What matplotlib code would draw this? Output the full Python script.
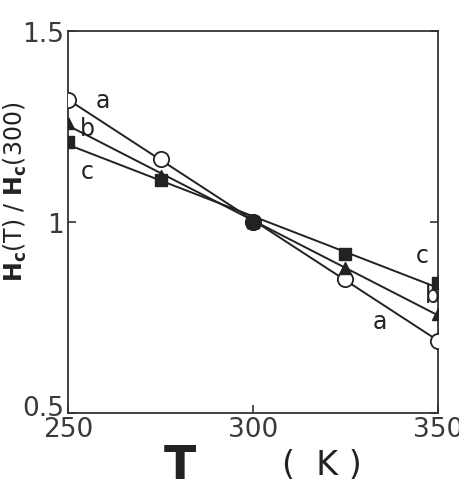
import numpy as np
import matplotlib
matplotlib.use("Agg")
import matplotlib.pyplot as plt
import matplotlib.transforms as mtransforms

T = [250, 275, 300, 325, 350]
a_vals = [1.32, 1.165, 1.0, 0.85, 0.69]
b_vals = [1.26, 1.12, 1.0, 0.88, 0.76]
c_vals = [1.21, 1.11, 1.0, 0.915, 0.84]

xticks = [250, 300, 350]
yticks = [0.5, 1, 1.5]
ytick_labels = ["0.5", "1", "1.5"]

fig = plt.figure(figsize=(4.6, 4.89), dpi=100)
ax = fig.add_axes([0.148, 0.153, 0.804, 0.782])
ax.set_xlim(250, 350)
ax.set_ylim(0.5, 1.5)

col = "#222222"
Tarr = np.array(T, dtype=float)
xx = np.array([250.0, 350.0])
for vals in (a_vals, b_vals, c_vals):
    p = np.polyfit(Tarr, np.array(vals), 1)
    ax.plot(xx, np.polyval(p, xx), color=col, lw=1.4, zorder=2)

ax.plot(T, a_vals, ls="none", marker="o", ms=11, mfc="white", mec=col, mew=1.3, zorder=3)
ax.plot(T, b_vals, ls="none", marker="^", ms=9, mfc=col, mec=col, zorder=4)
ax.plot(T, c_vals, ls="none", marker="s", ms=8, mfc=col, mec=col, zorder=5)
ax.plot([300], [1.0], ls="none", marker="o", ms=11, mfc=col, mec=col, zorder=6)

lab_kw = dict(fontsize=17, color=col, ha="center", va="center")
ax.text(259.5, 1.318, "a", **lab_kw)
ax.text(255.3, 1.245, "b", **lab_kw)
ax.text(255.3, 1.134, "c", **lab_kw)
ax.text(345.7, 0.913, "c", **lab_kw)
ax.text(348.4, 0.81, "b", **lab_kw)
ax.text(334.3, 0.74, "a", **lab_kw)

for s in ax.spines.values():
    s.set_color("#333333")
    s.set_linewidth(1.3)

ax.set_xticks(xticks)
ax.set_xticklabels([str(v) for v in xticks])
ax.set_yticks(yticks)
ax.set_yticklabels(ytick_labels)
ax.tick_params(direction="in", length=6, width=1.2, colors="#333333",
               labelsize=19, labelcolor="#3a3a3a", right=True)
ax.tick_params(axis="x", pad=2)
ax.tick_params(axis="y", pad=3)

# lift the 0.5 label slightly, as in the reference
lab0 = ax.get_yticklabels()[0]
lab0.set_transform(lab0.get_transform() + mtransforms.ScaledTranslation(0, 6 / 72, fig.dpi_scale_trans))

fig.text(0.033, 0.607, r"$\mathbf{H_c}$(T) / $\mathbf{H_c}$(300)", rotation=90,
         fontsize=17, color="#222222", ha="center", va="center")
fig.text(0.39, 0.045, "T", fontsize=34, fontweight="bold", color="#222222",
         ha="center", va="center")
fig.text(0.70, 0.048, "(  K )", fontsize=24, color="#222222",
         ha="center", va="center")

fig.savefig("out.png", dpi=100)
